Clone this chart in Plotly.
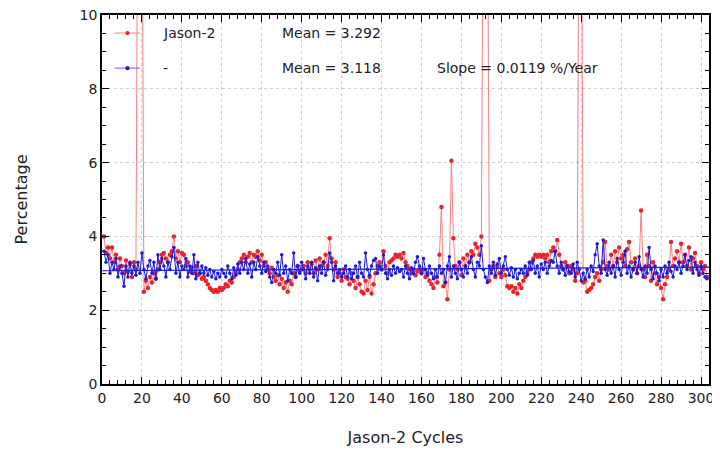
import plotly.graph_objects as go

# ---------------- data ----------------
SPIKE = 15.0  # values far above the visible range (clipped at 10)

red_vals = [
    4.0, 3.55, 3.7, 3.4, 3.7, 3.3, 3.5, 3.1, 3.4, 3.2,            # 1-10
    3.0, 3.35, 3.05, 3.25, 2.9, 3.3, 3.1, SPIKE, SPIKE, SPIKE,    # 11-20
    2.5, 2.8, 2.6, 2.9, 2.75, 3.0, 2.85, 3.1, 3.3, 3.5,           # 21-30
    3.55, 3.4, 3.3, 3.5, 3.6, 4.0, 3.4, 3.6, 3.3, 3.55,           # 31-40
    3.5, 3.2, 3.3, 3.05, 3.15, 3.0, 3.2, 2.95, 3.0, 2.85,         # 41-50
    2.9, 2.8, 2.7, 2.6, 2.55, 2.5, 2.55, 2.5, 2.6, 2.55,          # 51-60
    2.6, 2.7, 2.65, 2.8, 2.75, 2.9, 3.0, 3.1, 3.3, 3.4,           # 61-70
    3.5, 3.3, 3.45, 3.55, 3.3, 3.5, 3.45, 3.6, 3.35, 3.5,         # 71-80
    3.2, 3.3, 3.1, 3.0, 3.15, 2.9, 2.8, 2.95, 2.7, 2.85,          # 81-90
    2.6, 2.75, 2.5, 2.8, 2.7, 3.0, 2.9, 3.2, 3.05, 3.1,           # 91-100
    3.2, 3.0, 3.3, 3.1, 3.25, 3.0, 3.35, 3.1, 3.4, 3.2,           # 101-110
    3.3, 3.5, 3.2, 3.95, 3.4, 3.1, 3.3, 2.9, 3.0, 2.8,            # 111-120
    3.1, 2.9, 2.85, 2.7, 3.0, 2.8, 2.6, 2.9, 2.7, 2.5,            # 121-130
    2.45, 2.8, 2.55, 2.9, 2.45, 2.7, 3.0, 3.2, 3.3, 3.1,          # 131-140
    3.6, 3.2, 3.0, 3.3, 3.35, 3.4, 3.5, 3.45, 3.5, 3.4,           # 141-150
    3.55, 3.3, 3.2, 3.1, 3.0, 3.1, 2.95, 3.05, 3.1, 3.0,          # 151-160
    3.1, 2.9, 3.0, 2.8, 2.7, 2.6, 2.9, 2.75, 3.5, 4.8,            # 161-170
    2.65, 2.75, 2.3, 3.1, 6.05, 3.95, 3.2, 3.1, 3.3, 2.95,        # 171-180
    3.4, 3.2, 3.5, 3.3, 3.6, 3.5, 3.8, 3.7, 3.5, 4.0,             # 181-190
    SPIKE, SPIKE, SPIKE, 2.8, 3.1, 3.2, 2.9, 3.2, 3.0, 2.9,       # 191-200
    3.1, 2.95, 2.65, 2.6, 2.65, 2.5, 2.6, 2.45, 2.7, 2.6,         # 201-210
    2.8, 2.9, 3.0, 3.1, 3.3, 3.4, 3.5, 3.45, 3.5, 3.45,           # 211-220
    3.5, 3.4, 3.5, 3.3, 3.6, 3.7, 3.6, 3.9, 3.5, 3.2,             # 221-230
    3.1, 3.3, 3.2, 3.0, 3.2, 3.1, 2.8, 3.0, SPIKE, SPIKE,         # 231-240
    2.75, 2.8, 2.5, 2.55, 2.6, 2.7, 2.9, 3.0, 2.8, 3.1,           # 241-250
    3.3, 3.85, 3.2, 3.1, 3.5, 3.2, 3.6, 3.3, 3.7, 3.4,            # 251-260
    3.5, 3.2, 3.65, 3.85, 3.3, 3.1, 3.4, 3.0, 3.2, 4.7,           # 261-270
    3.1, 2.9, 3.5, 3.2, 2.8, 3.3, 3.0, 2.7, 2.9, 2.6,             # 271-280
    2.3, 2.7, 2.9, 3.1, 3.85, 3.2, 3.4, 3.6, 3.3, 3.8,            # 281-290
    3.3, 3.5, 3.2, 3.7, 3.1, 3.4, 3.55, 3.2, 3.0, 3.3,            # 291-300
    3.1, 3.2, 2.9,                                                # 301-303
]

blue_vals = [
    3.6, 3.3, 3.5, 3.0, 3.3, 3.1, 3.4, 2.9, 3.2, 3.0,             # 1-10
    2.65, 3.2, 2.9, 3.3, 3.0, 3.2, 2.95, 3.3, 3.0, 3.55,          # 11-20
    3.1, 2.85, 3.2, 3.35, 3.0, 3.3, 2.85, 3.5, 3.1, 3.4,          # 21-30
    3.2, 2.9, 3.3, 3.1, 3.45, 3.7, 3.0, 3.3, 2.9, 3.2,            # 31-40
    3.1, 3.4, 2.9, 3.2, 3.0, 3.5, 2.85, 3.3, 3.0, 3.2,            # 41-50
    3.0, 3.15, 2.95, 3.1, 2.9, 3.05, 2.85, 3.0, 2.9, 3.1,         # 51-60
    3.0, 2.9, 3.2, 3.0, 2.85, 3.15, 2.95, 3.25, 3.0, 3.3,         # 61-70
    3.1, 3.4, 3.0, 3.25, 2.9, 3.3, 3.1, 3.45, 3.2, 3.0,           # 71-80
    3.3, 3.05, 3.2, 2.9, 2.75, 3.1, 3.0, 3.3, 2.95, 3.5,          # 81-90
    3.0, 3.2, 2.8, 3.1, 3.0, 3.55, 2.9, 3.2, 3.0, 3.3,            # 91-100
    3.1, 2.85, 3.2, 3.0, 3.3, 2.9, 3.15, 2.8, 3.2, 3.0,           # 101-110
    3.3, 2.95, 3.1, 3.55, 3.3, 2.8, 3.2, 3.0, 3.1, 2.9,           # 111-120
    3.0, 3.2, 2.9, 3.1, 2.85, 3.0, 3.2, 2.9, 3.3, 3.0,            # 121-130
    2.9, 3.55, 3.1, 2.95, 3.2, 3.35, 3.4, 3.0, 3.2, 3.1,          # 131-140
    3.5, 3.0, 2.85, 3.1, 2.95, 3.2, 3.0, 3.15, 3.05, 3.1,         # 141-150
    2.9, 3.2, 3.0, 2.85, 3.15, 3.0, 3.3, 3.45, 3.2, 3.0,          # 151-160
    3.4, 3.1, 2.95, 3.2, 3.0, 2.85, 3.1, 2.9, 3.2, 3.0,           # 161-170
    3.1, 2.75, 3.2, 3.45, 2.9, 3.2, 3.0, 2.85, 3.3, 3.1,          # 171-180
    2.9, 3.2, 3.0, 3.3, 3.45, 3.1, 2.9, 3.3, 3.2, 3.75,           # 181-190
    3.1, 2.9, 2.75, 3.2, 3.0, 3.3, 2.95, 3.25, 3.4, 3.0,          # 191-200
    3.2, 3.45, 3.1, 2.95, 3.15, 2.9, 3.1, 2.85, 3.0, 3.1,         # 201-210
    3.0, 3.2, 2.95, 3.3, 3.1, 3.35, 3.0, 3.2, 2.9, 3.25,          # 211-220
    3.1, 3.3, 3.0, 3.2, 3.35, 3.3, 3.6, 3.2, 3.0, 3.3,            # 221-230
    3.1, 2.95, 3.2, 3.05, 3.0, 3.25, 2.9, 3.3, 3.1, 2.8,          # 231-240
    3.0, 2.85, 3.1, 2.9, 3.2, 3.05, 3.5, 3.8, 3.2, 3.0,           # 241-250
    3.9, 3.1, 2.95, 3.3, 3.0, 3.2, 2.9, 3.4, 3.1, 2.95,           # 251-260
    3.3, 3.6, 3.0, 3.2, 2.9, 3.1, 3.3, 3.0, 3.45, 3.1,            # 261-270
    2.9, 3.2, 3.0, 3.7, 3.1, 2.85, 3.2, 3.0, 2.8, 3.1,            # 271-280
    2.9, 3.2, 3.0, 3.3, 3.05, 2.9, 3.2, 3.1, 3.3, 3.0,            # 281-290
    3.2, 3.5, 3.1, 3.35, 3.45, 3.0, 3.3, 3.1, 2.95, 3.2,          # 291-300
    3.0, 2.9, 2.85,                                               # 301-303
]

red_cycles = list(range(1, len(red_vals) + 1))
blue_cycles = list(range(1, len(blue_vals) + 1))

red_mean = 3.292
blue_mean = 3.118
blue_slope_per_year = 0.0119
cycles_per_year = 365.25 / 9.9156   # Jason-2 repeat cycle ~9.9156 days

x_range = [0, 304]
y_range = [0, 10]
x_ticks = list(range(0, 301, 20))
y_ticks = [0, 2, 4, 6, 8, 10]

# trend line for the second series (mean + slope)
x_mid = (blue_cycles[0] + blue_cycles[-1]) / 2
slope_c = blue_slope_per_year / cycles_per_year
trend_x = [x_range[0], x_range[1]]
trend_y = [blue_mean + slope_c * (xv - x_mid) for xv in trend_x]

RED_LINE = "rgba(240,110,110,0.85)"
RED_MARK = "#e8242a"
BLUE = "#1a1adc"
FONT = "DejaVu Sans"

fig = go.Figure()
fig.add_trace(go.Scatter(
    x=red_cycles, y=red_vals, mode="lines+markers",
    line=dict(color=RED_LINE, width=1),
    marker=dict(color=RED_MARK, size=4.5),
    showlegend=False, cliponaxis=True))
fig.add_trace(go.Scatter(
    x=trend_x, y=trend_y, mode="lines",
    line=dict(color=BLUE, width=1.2), showlegend=False))
fig.add_trace(go.Scatter(
    x=blue_cycles, y=blue_vals, mode="lines+markers",
    line=dict(color=BLUE, width=1),
    marker=dict(color=BLUE, size=3.5),
    showlegend=False))

# ---- hand-drawn legend (paper coords) ----
rows = [(0.951, RED_LINE, RED_MARK), (0.856, "rgba(60,60,240,0.8)", BLUE)]
for yy, lc, mc in rows:
    fig.add_shape(type="line", xref="paper", yref="paper",
                  x0=0.021, x1=0.063, y0=yy, y1=yy,
                  line=dict(color=lc, width=1))
    fig.add_shape(type="circle", xref="paper", yref="paper",
                  x0=0.042 - 0.0035, x1=0.042 + 0.0035,
                  y0=yy - 0.0058, y1=yy + 0.0058,
                  fillcolor=mc, line=dict(color=mc, width=0))

ann_font = dict(family=FONT, size=14, color="#222")
texts = [
    (0.097, 0.951, "Jason-2"),
    (0.293, 0.951, f"Mean = {red_mean:.3f}"),
    (0.097, 0.856, "-"),
    (0.293, 0.856, f"Mean = {blue_mean:.3f}"),
    (0.549, 0.856, f"Slope = {blue_slope_per_year:.4f} %/Year"),
]
for xx, yy, t in texts:
    fig.add_annotation(x=xx, y=yy, xref="paper", yref="paper", text=t,
                       showarrow=False, xanchor="left", yanchor="middle",
                       font=ann_font)

axis_common = dict(
    showline=True, linecolor="black", linewidth=1.5, mirror="ticks",
    ticks="inside", ticklen=7, tickwidth=1, tickcolor="black",
    showgrid=True, gridcolor="#cfcfcf", griddash="dot", gridwidth=1,
    zeroline=False, automargin=False, ticklabeloverflow="allow",
    tickfont=dict(family=FONT, size=14, color="#222"),
)

fig.update_xaxes(
    range=x_range, tickvals=x_ticks,
    minor=dict(ticks="inside", ticklen=4, tickcolor="black", dtick=4,
               tick0=0, showgrid=False),
    title=dict(text="Jason-2 Cycles", font=dict(family=FONT, size=16, color="#222"),
               standoff=27),
    **axis_common)
fig.update_yaxes(
    range=y_range, tickvals=y_ticks,
    minor=dict(ticks="inside", ticklen=4, tickcolor="black", dtick=0.5,
               tick0=0, showgrid=False),
    title=dict(text="Percentage", font=dict(family=FONT, size=16, color="#222"),
               standoff=48),
    **axis_common)

# the page adds an 8px body margin, so the figure is 8px smaller than the window
fig.update_layout(
    width=712, height=446,
    margin=dict(l=94, r=11, t=7, b=70, autoexpand=False),
    paper_bgcolor="white", plot_bgcolor="white",
    font=dict(family=FONT),
)

fig.write_html("out.html")
